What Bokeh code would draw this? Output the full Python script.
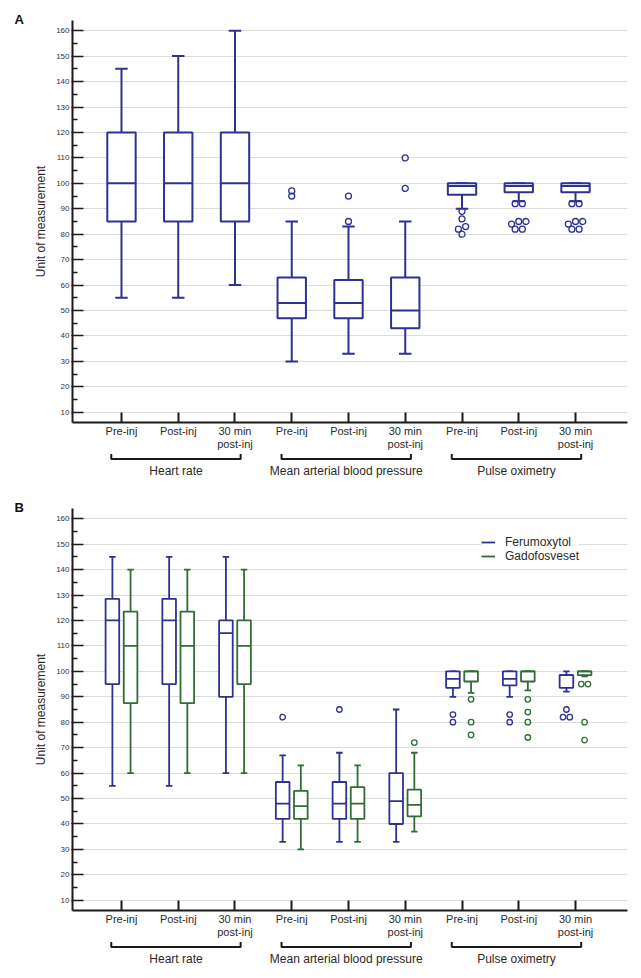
from bokeh.plotting import figure
from bokeh.models import (Range1d, FixedTicker, Legend, LegendItem,
                          ColumnDataSource)
from bokeh.layouts import column
from bokeh.embed import file_html
from bokeh.resources import INLINE
from bokeh.core.properties import value

# ---------------- data ----------------
categories = ["Pre-inj", "Post-inj", "30 min\npost-inj"] * 3
groups = ["Heart rate", "Mean arterial blood pressure", "Pulse oximetry"]
group_first = [1, 4, 7]
group_last = [3, 6, 9]
yticks = list(range(10, 161, 10))

# Panel A (all animals)
a_low = [55, 55, 60, 30, 33, 33, 90, 93, 93]
a_q1 = [85, 85, 85, 47, 47, 43, 95.5, 96.5, 96.5]
a_med = [100, 100, 100, 53, 53, 50, 99, 99, 99]
a_q3 = [120, 120, 120, 63, 62, 63, 100, 100, 100]
a_high = [145, 150, 160, 85, 83, 85, 100, 100, 100]
a_out = [[], [], [], [95, 97], [85, 95], [98, 110],
         [89, 86, 83, 82, 80], [92, 92, 85, 85, 84, 82, 82],
         [92, 92, 85, 85, 84, 82, 82]]

# Panel B - Ferumoxytol
f_low = [55, 55, 60, 33, 33, 33, 90, 90, 92]
f_q1 = [95, 95, 90, 42, 42, 40, 93.5, 94.5, 93.5]
f_med = [120, 120, 115, 48, 48, 49, 97, 97, 98.5]
f_q3 = [128.5, 128.5, 120, 56.5, 56.5, 60, 100, 100, 98.5]
f_high = [145, 145, 145, 67, 68, 85, 100, 100, 100]
f_out = [[], [], [], [82], [85], [], [83, 80], [83, 80], [85, 82, 82]]

# Panel B - Gadofosveset
g_low = [60, 60, 60, 30, 33, 37, 91.5, 92.5, 98]
g_q1 = [87.5, 87.5, 95, 42, 42, 43, 96, 96, 98.5]
g_med = [110, 110, 110, 47, 48, 47.5, 100, 100, 100]
g_q3 = [123.5, 123.5, 120, 53, 54.5, 53.5, 100, 100, 100]
g_high = [140, 140, 140, 63, 63, 68, 100, 100, 100]
g_out = [[], [], [], [], [], [72], [89, 80, 75], [89, 84, 80, 74],
         [95, 95, 80, 73]]

series_names = ["Ferumoxytol", "Gadofosveset"]
panel_letters = ["A", "B"]

# ---------------- style ----------------
FONT = "Liberation Sans"
BLUE = "#2e3192"
GREEN = "#2e6e34"
GRID = "#dcdcdc"
AXIS = "#1a1a1a"
TXT = "#2a2a2a"

FRAME_W, FRAME_H = 555, 406
LEFT, RIGHT, BOTTOM = 72, 8, 26
FIG_W = LEFT + FRAME_W + RIGHT
X0, X1 = 0.137, 9.916
Y0, Y1 = 6, 164
PX_X = FRAME_W / (X1 - X0)
PX_Y = FRAME_H / (Y1 - Y0)

x_range = Range1d(X0, X1)
positions = list(range(1, len(categories) + 1))


def dodge(xc, vals, d):
    """Put outliers that would sit almost on top of each other side by side."""
    rows = []
    for v in sorted(vals, reverse=True):
        if rows and (rows[-1][0] - v) * PX_Y < 4:
            rows[-1].append(v)
        else:
            rows.append([v])
    xs, ys = [], []
    for r in rows:
        n = len(r)
        for k, v in enumerate(r):
            xs.append(xc + ((n - 1) / 2 - k) * d / PX_X)
            ys.append(v)
    return xs, ys


def draw_boxes(p, xs, low, q1, med, q3, high, outs, color, box_w, cap_w, lw, size):
    src = ColumnDataSource(dict(
        x=xs, l=[x - box_w / 2 for x in xs], r=[x + box_w / 2 for x in xs],
        cl=[x - cap_w / 2 for x in xs], cr=[x + cap_w / 2 for x in xs],
        low=low, q1=q1, med=med, q3=q3, high=high))
    w = p.segment(x0="x", y0="q3", x1="x", y1="high", source=src,
                  line_color=color, line_width=lw)
    p.segment(x0="x", y0="q1", x1="x", y1="low", source=src,
              line_color=color, line_width=lw)
    p.segment(x0="cl", y0="high", x1="cr", y1="high", source=src,
              line_color=color, line_width=lw)
    p.segment(x0="cl", y0="low", x1="cr", y1="low", source=src,
              line_color=color, line_width=lw)
    p.quad(left="l", right="r", bottom="q1", top="q3", source=src,
           fill_color="white", line_color=color, line_width=lw)
    p.segment(x0="l", y0="med", x1="r", y1="med", source=src,
              line_color=color, line_width=lw)
    ox, oy = [], []
    for x, vals in zip(xs, outs):
        a, b = dodge(x, vals, size + 1.2)
        ox += a
        oy += b
    p.scatter(x=ox, y=oy, marker="circle", size=size, fill_color=None,
              line_color=color, line_width=1.3)
    return w


def main_fig(top, letter):
    p = figure(width=FIG_W, height=top + FRAME_H + BOTTOM, x_range=x_range,
               y_range=Range1d(Y0, Y1), output_backend="svg",
               toolbar_location=None, min_border_left=LEFT,
               min_border_right=RIGHT, min_border_top=top,
               min_border_bottom=BOTTOM, title=letter)
    p.title.align = "left"
    p.title.offset = -58
    p.title.standoff = -12
    p.title.text_font = FONT
    p.title.text_font_size = "13px"
    p.title.text_font_style = "bold"
    p.title.text_color = "#111111"

    p.outline_line_color = None
    p.background_fill_color = "white"
    p.border_fill_color = "white"
    p.xgrid.visible = False
    p.ygrid.grid_line_color = GRID
    p.ygrid.grid_line_width = 1

    ya = p.yaxis[0]
    ya.ticker = FixedTicker(ticks=yticks, minor_ticks=list(range(15, 160, 10)))
    ya.axis_line_width = 2
    ya.axis_line_color = AXIS
    ya.major_tick_in = 11
    ya.major_tick_out = 1
    ya.minor_tick_in = 5
    ya.minor_tick_out = 0
    ya.major_tick_line_width = 1.5
    ya.minor_tick_line_width = 1.5
    ya.major_tick_line_color = AXIS
    ya.minor_tick_line_color = AXIS
    ya.major_label_text_font = FONT
    ya.major_label_text_font_size = "8px"
    ya.major_label_text_color = "#333333"
    ya.major_label_standoff = 2
    ya.axis_label = "Unit of measurement"
    ya.axis_label_text_font = FONT
    ya.axis_label_text_font_size = "12px"
    ya.axis_label_text_font_style = "normal"
    ya.axis_label_text_color = TXT
    ya.axis_label_standoff = 5

    xa = p.xaxis[0]
    xa.ticker = FixedTicker(ticks=positions)
    xa.major_label_overrides = {i: c for i, c in zip(positions, categories)}
    xa.axis_line_width = 2
    xa.axis_line_color = AXIS
    xa.major_tick_in = 10
    xa.major_tick_out = 0
    xa.major_tick_line_width = 2
    xa.major_tick_line_color = AXIS
    xa.minor_tick_line_color = None
    xa.major_label_text_font = FONT
    xa.major_label_text_font_size = "11px"
    xa.major_label_text_color = TXT
    xa.major_label_standoff = 2
    xa.major_label_text_line_height = 1.1
    return p


def helper_fig(height, bracket_y, label_y):
    h = figure(width=FIG_W, height=height, x_range=x_range,
               y_range=Range1d(height, 0), output_backend="svg",
               toolbar_location=None, min_border_left=LEFT,
               min_border_right=RIGHT, min_border_top=0, min_border_bottom=0,
               x_axis_location=None, y_axis_location=None)
    h.outline_line_color = None
    h.grid.visible = False
    h.background_fill_color = "white"
    h.border_fill_color = "white"
    starts = [f - 0.18 for f in group_first]
    ends = [l + 0.1 for l in group_last]
    h.multi_line(xs=[[s, s, e, e] for s, e in zip(starts, ends)],
                 ys=[[bracket_y - 5, bracket_y, bracket_y, bracket_y - 5]] * len(starts),
                 line_color=AXIS, line_width=2)
    h.text(x=[(s + e) / 2 for s, e in zip(starts, ends)], y=[label_y] * len(groups),
           text=groups, text_font=value(FONT), text_font_size="12px",
           text_align="center", text_baseline="middle", text_color=TXT)
    return h


# Panel A
pA = main_fig(20, panel_letters[0])
draw_boxes(pA, positions, a_low, a_q1, a_med, a_q3, a_high, a_out,
           BLUE, 0.5, 0.22, 2, 6)
hA = helper_fig(44, 6.5, 18)

# Panel B
pB = main_fig(12, panel_letters[1])
off = 0.16
rb = draw_boxes(pB, [x - off for x in positions], f_low, f_q1, f_med, f_q3,
                f_high, f_out, BLUE, 0.24, 0.115, 1.8, 5.5)
rg = draw_boxes(pB, [x + off for x in positions], g_low, g_q1, g_med, g_q3,
                g_high, g_out, GREEN, 0.24, 0.115, 1.8, 5.5)
legend = Legend(items=[LegendItem(label=series_names[0], renderers=[rb]),
                       LegendItem(label=series_names[1], renderers=[rg])],
                location=(409, 347), glyph_width=14, glyph_height=10,
                label_height=10, spacing=0, padding=4, margin=0,
                label_standoff=10, border_line_color=None,
                background_fill_color="white", background_fill_alpha=1.0,
                label_text_font=FONT, label_text_font_size="12px",
                label_text_color=TXT)
pB.add_layout(legend)
hB = helper_fig(30, 6.5, 18)

layout = column(pA, hA, pB, hB, spacing=0)
with open("out.html", "w") as f:
    f.write(file_html(layout, INLINE))
